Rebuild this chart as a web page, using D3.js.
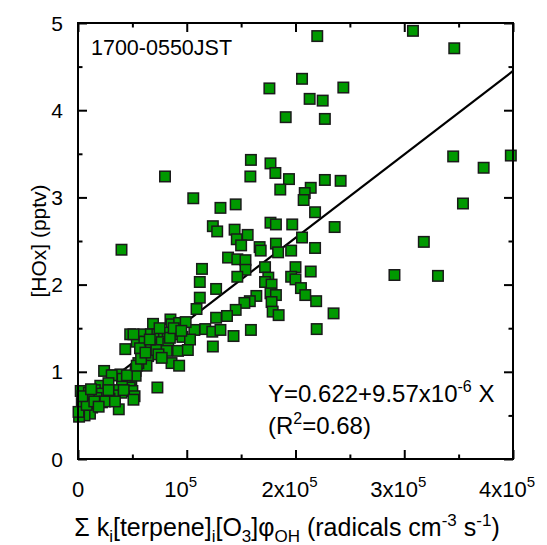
<!DOCTYPE html>
<html><head><meta charset="utf-8">
<script src="https://cdn.jsdelivr.net/npm/d3@7"></script>
<style>body{margin:0;background:#fff}svg{display:block}text{font-family:"Liberation Sans",Arial,sans-serif;fill:#000}</style>
</head><body>
<svg id="c" width="547" height="545"></svg>
<script>
const hoxX = [3.08e5,3.46e5,2.44e5,3.45e5,3.73e5,3.98e5,2.415e5,3.54e5,2.36e5,3.18e5,2.91e5,3.31e5,
2.20e5,2.06e5,1.76e5,2.13e5,2.25e5,1.91e5,2.27e5,1.59e5,1.77e5,1.815e5,1.585e5,1.94e5,2.27e5,1.86e5,2.14e5,2.085e5,2.075e5,
1.06e5,1.31e5,1.45e5,2.18e5,1.77e5,1.82e5,1.97e5,1.24e5,1.28e5,1.44e5,1.46e5,1.56e5,1.50e5,2.06e5,1.67e5,1.68e5,1.82e5,
1.84e5,1.96e5,2.18e5,1.38e5,1.465e5,1.54e5,1.54e5,1.72e5,2.00e5,1.14e5,1.465e5,1.75e5,1.72e5,1.96e5,2.00e5,1.78e5,2.14e5,
1.12e5,2.05e5,2.09e5,1.77e5,1.82e5,1.27e5,1.12e5,1.64e5,1.78e5,1.58e5,1.53e5,2.19e5,1.09e5,1.45e5,1.79e5,1.845e5,2.35e5,
1.37e5,1.27e5,1.07e5,1.17e5,1.235e5,1.31e5,1.59e5,2.195e5,1.43e5,1.24e5,0.80e5,0.40e5,0.73e5,
0.69e5,0.85e5,0.86e5,0.93e5,0.99e5,0.48e5,0.60e5,0.67e5,0.73e5,0.79e5,0.825e5,0.90e5,0.96e5,0.54e5,0.61e5,0.67e5,0.77e5,
0.83e5,0.92e5,1.03e5,1.01e5,0.435e5,0.57e5,0.645e5,0.72e5,0.815e5,0.86e5,0.93e5,0.63e5,0.24e5,0.325e5,0.39e5,0.41e5,0.45e5,
0.49e5,0.53e5,0.53e5,0.475e5,0.50e5,0.52e5,0.405e5,0.40e5,0.33e5,0.265e5,0.325e5,0.375e5,0.29e5,0.205e5,0.155e5,0.22e5,
0.17e5,0.22e5,0.13e5,0.085e5,0.025e5,0.05e5,0.11e5,0.06e5,0.035e5,0.555e5,0.31e5,0.45e5,0.28e5,0.10e5,0.28e5,0.42e5,0.25e5,
0.34e5,0.51e5,0.01e5,0.005e5,0.51e5,0.845e5,0.74e5,0.77e5,0.54e5,
0.08e5,0.15e5,0.04e5,0.19e5,0.12e5,0.58e5,0.66e5,0.88e5,0.95e5,0.75e5,0.62e5];
const hoxY = [4.91,4.71,4.26,3.47,3.34,3.48,3.19,2.93,2.66,2.49,2.11,2.10,
4.85,4.36,4.25,4.13,4.11,3.92,3.90,3.43,3.39,3.28,3.24,3.21,3.20,3.09,3.11,3.05,2.97,
2.99,2.88,2.92,2.83,2.71,2.69,2.69,2.67,2.61,2.63,2.52,2.57,2.45,2.54,2.43,2.39,2.47,
2.37,2.39,2.42,2.31,2.29,2.28,2.17,2.20,2.20,2.18,2.09,2.08,2.03,2.09,2.06,2.00,2.15,
2.03,1.96,1.88,1.90,1.88,1.95,1.85,1.87,1.80,1.81,1.79,1.81,1.72,1.71,1.69,1.65,1.67,
1.64,1.62,1.48,1.49,1.46,1.48,1.48,1.49,1.41,1.29,3.24,2.40,0.82,
1.55,1.60,1.545,1.56,1.57,1.43,1.43,1.43,1.43,1.41,1.45,1.43,1.40,1.345,1.345,1.31,1.34,
1.32,1.24,1.37,1.25,1.26,1.27,1.18,1.25,1.24,1.10,1.07,1.07,1.01,0.96,0.97,0.92,0.89,
0.91,1.01,0.955,0.82,0.78,0.72,0.83,0.76,0.79,0.76,0.73,0.57,0.69,0.84,0.79,0.75,
0.70,0.65,0.59,0.70,0.78,0.59,0.52,0.50,0.64,1.10,0.96,0.96,0.87,0.76,0.79,0.79,0.66,
0.66,0.68,0.485,0.54,1.43,1.39,1.20,1.16,1.07,
0.62,0.66,0.72,0.60,0.80,1.15,1.37,1.50,1.47,1.50,1.22];

const fitIntercept = 0.622, fitSlope = 9.57e-6;
const xMajor = [0, 1e5, 2e5, 3e5, 4e5];
const xMinor = [0.5e5, 1.5e5, 2.5e5, 3.5e5];
const xTickBase = ["0", "10", "2x10", "3x10", "4x10"];
const xTickSup = ["", "5", "5", "5", "5"];
const yMajor = [0, 1, 2, 3, 4, 5];
const yMinor = [0.5, 1.5, 2.5, 3.5, 4.5];
const yTickLabels = ["0", "1", "2", "3", "4", "5"];

const svg = d3.select("#c");
const L = 78, R = 513, T = 23, B = 459;
const x = d3.scaleLinear().domain([0, 4e5]).range([L, R]);
const y = d3.scaleLinear().domain([0, 5]).range([B, T]);

function styleAxis(g){ g.select(".domain").remove(); g.selectAll("line").attr("stroke","#000").attr("stroke-width",2); }

svg.append("g").attr("transform",`translate(0,${B})`).call(d3.axisBottom(x).tickValues(xMajor).tickSize(-9).tickFormat("")).call(styleAxis);
svg.append("g").attr("transform",`translate(0,${B})`).call(d3.axisBottom(x).tickValues(xMinor).tickSize(-4.5).tickFormat("")).call(styleAxis);
svg.append("g").attr("transform",`translate(0,${T})`).call(d3.axisTop(x).tickValues(xMajor).tickSize(-9).tickFormat("")).call(styleAxis);
svg.append("g").attr("transform",`translate(0,${T})`).call(d3.axisTop(x).tickValues(xMinor).tickSize(-4.5).tickFormat("")).call(styleAxis);
svg.append("g").attr("transform",`translate(${L},0)`).call(d3.axisLeft(y).tickValues(yMajor).tickSize(-9).tickFormat("")).call(styleAxis);
svg.append("g").attr("transform",`translate(${L},0)`).call(d3.axisLeft(y).tickValues(yMinor).tickSize(-4.5).tickFormat("")).call(styleAxis);
svg.append("g").attr("transform",`translate(${R},0)`).call(d3.axisRight(y).tickValues(yMajor).tickSize(-9).tickFormat("")).call(styleAxis);
svg.append("g").attr("transform",`translate(${R},0)`).call(d3.axisRight(y).tickValues(yMinor).tickSize(-4.5).tickFormat("")).call(styleAxis);

yMajor.forEach((v,i)=>{
  svg.append("text").attr("x", 63).attr("y", y(v)).attr("dy","0.36em").attr("text-anchor","end")
    .attr("font-size",21).text(yTickLabels[i]);
});
xMajor.forEach((v,i)=>{
  const t = svg.append("text").attr("x", x(v) - (xTickSup[i] ? 6 : 0)).attr("y", 497).attr("text-anchor","middle").attr("font-size",22);
  t.append("tspan").text(xTickBase[i]);
  if (xTickSup[i]) t.append("tspan").attr("dy",-10).attr("font-size",15).text(xTickSup[i]);
});

svg.append("line").attr("x1", x(0)).attr("y1", y(fitIntercept))
  .attr("x2", x(4e5)).attr("y2", y(fitIntercept + fitSlope*4e5))
  .attr("stroke","#000").attr("stroke-width",2.2);

const pts = hoxX.map((v,i)=>[v, hoxY[i]]);
const s = 10.5;
svg.append("g").selectAll("rect").data(pts).join("rect")
  .attr("x", d=>x(d[0]) - s/2).attr("y", d=>y(d[1]) - s/2)
  .attr("width", s).attr("height", s)
  .attr("fill","#009900").attr("stroke","#1a1a1a").attr("stroke-width",1.5);

svg.append("rect").attr("x",L).attr("y",T).attr("width",R-L).attr("height",B-T)
  .attr("fill","none").attr("stroke","#000").attr("stroke-width",2);

svg.append("text").attr("x",91).attr("y",55).attr("font-size",21.5).text("1700-0550JST");
const eq = svg.append("text").attr("x",268).attr("y",402).attr("font-size",24);
eq.append("tspan").text("Y=0.622+9.57x10");
eq.append("tspan").attr("dy",-10).attr("font-size",16).text("-6");
eq.append("tspan").attr("dy",10).text(" X");
const r2 = svg.append("text").attr("x",268).attr("y",434).attr("font-size",24);
r2.append("tspan").text("(R");
r2.append("tspan").attr("dy",-10).attr("font-size",16).text("2");
r2.append("tspan").attr("dy",10).text("=0.68)");

svg.append("text").attr("transform","translate(46,241) rotate(-90)").attr("text-anchor","middle")
  .attr("font-size",21).text("[HOx] (pptv)");
const xt = svg.append("text").attr("x",287).attr("y",536).attr("text-anchor","middle").attr("font-size",25);
const parts = [["Σ k",0],["i",1],["[terpene]",0],["i",1],["[O",0],["3",1],["]φ",0],["OH",1],[" (radicals cm",0],["-3",-1],[" s",0],["-1",-1],[")",0]];
let prev = 0;
parts.forEach(([t,k])=>{
  const off = k===1 ? 6 : (k===-1 ? -10 : 0);
  xt.append("tspan").attr("dy", off - prev).attr("font-size", k===0 ? 25 : 17).text(t);
  prev = off;
});
</script>
</body></html>
